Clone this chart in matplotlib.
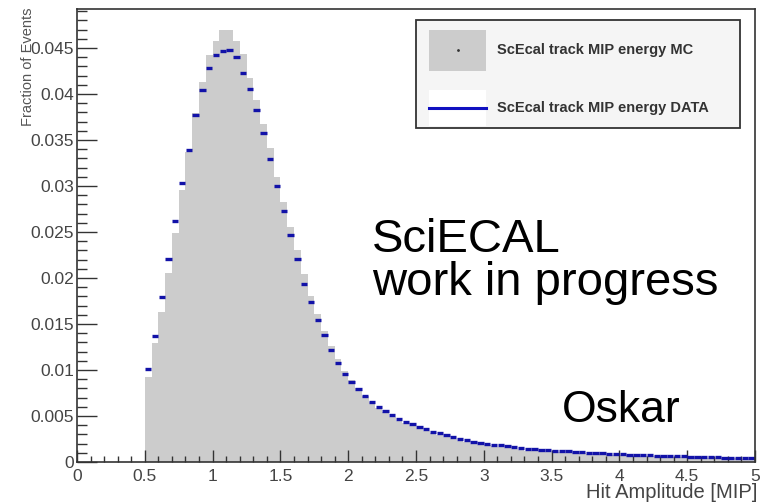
import matplotlib
matplotlib.use("Agg")
import matplotlib.pyplot as plt
from matplotlib.patches import Rectangle
from matplotlib.lines import Line2D
from matplotlib.ticker import MultipleLocator
import numpy as np

plt.rcParams['font.family'] = ['Liberation Sans', 'DejaVu Sans']

# histogram binning (Hit Amplitude in MIP)
bin_lo = 0.5
bin_w = 0.05

# MC histogram (fraction of events per bin)
mc = [0.0092, 0.0129, 0.0163, 0.0205, 0.0249, 0.0296, 0.0337, 0.0379, 0.0413, 0.0442,
      0.0458, 0.0470, 0.0470, 0.0458, 0.0444, 0.0417, 0.0394, 0.0368, 0.0341, 0.0310,
      0.0283, 0.0256, 0.0230, 0.0204, 0.0181, 0.0161, 0.0142, 0.0126, 0.0112, 0.0099,
      0.0089, 0.0080, 0.0072, 0.0065, 0.0059, 0.0054, 0.0049, 0.0045, 0.0042, 0.0039,
      0.0036, 0.0034, 0.0031, 0.0029, 0.0027, 0.0025, 0.0023, 0.0022, 0.0020, 0.0019,
      0.0018, 0.0017, 0.0016, 0.0015, 0.0014, 0.0013, 0.00125, 0.0012, 0.00115, 0.0011,
      0.00112, 0.00107, 0.00102, 0.00098, 0.00094, 0.0009, 0.00086, 0.00083, 0.0008, 0.00077,
      0.00074, 0.00071, 0.00068, 0.00066, 0.00063, 0.00061, 0.00059, 0.00057, 0.00055, 0.00053,
      0.00051, 0.00049, 0.00047, 0.00045, 0.00044, 0.00042, 0.00041, 0.00039, 0.00038, 0.00037]

# DATA histogram
data = [0.0101, 0.0137, 0.0179, 0.0221, 0.0262, 0.0303, 0.0339, 0.0377, 0.0404, 0.0428,
        0.0442, 0.0447, 0.0448, 0.0440, 0.0423, 0.0405, 0.0383, 0.0358, 0.0329, 0.0300,
        0.0273, 0.0247, 0.0221, 0.0194, 0.0174, 0.0154, 0.0138, 0.0122, 0.0108, 0.0096,
        0.0087, 0.0079, 0.0072, 0.0065, 0.0060, 0.0055, 0.0051, 0.0047, 0.0044, 0.0041,
        0.0038, 0.0036, 0.0033, 0.0031, 0.0029, 0.0027, 0.0025, 0.0024, 0.0022, 0.0021,
        0.0020, 0.0019, 0.0018, 0.0017, 0.0016, 0.0015, 0.00145, 0.0014, 0.00135, 0.0013,
        0.00125, 0.0012, 0.00115, 0.0011, 0.00106, 0.00102, 0.00098, 0.00094, 0.0009, 0.00087,
        0.00084, 0.00081, 0.00078, 0.00075, 0.00072, 0.0007, 0.00067, 0.00065, 0.00062, 0.0006,
        0.00058, 0.00056, 0.00054, 0.00052, 0.0005, 0.00048, 0.00046, 0.00045, 0.00043, 0.00042]

mc = np.array(mc)
data = np.array(data)
edges = bin_lo + bin_w * np.arange(len(mc) + 1)
centers = 0.5 * (edges[:-1] + edges[1:])

W, H = 761, 504
fig = plt.figure(figsize=(W / 100, H / 100), dpi=100)
ax = fig.add_axes([77 / W, 1 - 462 / H, 678 / W, 453 / H])

gray = '#cccccc'
blue = '#1212a8'
axcol = '#333333'
txtcol = '#444444'

ax.stairs(mc, edges, fill=True, color=gray, lw=0)
ax.hlines(data, centers - 0.47 * bin_w, centers + 0.47 * bin_w, colors=blue, lw=2.4)

ax.set_xlim(0, 5)
ax.set_ylim(0, 0.04925)
ax.xaxis.set_major_locator(MultipleLocator(0.5))
ax.xaxis.set_minor_locator(MultipleLocator(0.1))
ax.yaxis.set_major_locator(MultipleLocator(0.005))
ax.yaxis.set_minor_locator(MultipleLocator(0.001))
ax.xaxis.set_major_formatter(plt.FuncFormatter(lambda v, p: f"{v:g}"))
ax.yaxis.set_major_formatter(plt.FuncFormatter(lambda v, p: f"{v:g}"))

ax.tick_params(axis='both', direction='in', colors=axcol, labelcolor=txtcol,
               labelsize=12.5, width=1.0, top=False, right=False)
ax.tick_params(axis='y', which='major', length=14.4, pad=2)
ax.tick_params(axis='y', which='minor', length=7.2, width=1.0, direction='in', colors=axcol)
ax.tick_params(axis='x', which='major', length=8.6, pad=5)
ax.tick_params(axis='x', which='minor', length=4.3, width=1.0, direction='in', colors=axcol)
for s in ax.spines.values():
    s.set_color(axcol)
    s.set_linewidth(1.2)

fig.text(28 / W, 1 - 8 / H, 'Fraction of Events', rotation=90, ha='center', va='top',
         fontsize=10.5, color='#555555')
fig.text(757 / W, 1 - 493 / H, 'Hit Amplitude [MIP]', ha='right', va='center',
         fontsize=14.5, color=txtcol)

# legend box (ROOT style)
fig.add_artist(Rectangle((416 / W, 1 - 128 / H), 324 / W, 108 / H, transform=fig.transFigure,
                         facecolor='#f5f5f5', edgecolor='#333333', lw=1.3))
fig.add_artist(Rectangle((429 / W, 1 - 71 / H), 57 / W, 41 / H, transform=fig.transFigure,
                         facecolor=gray, edgecolor='none'))
fig.add_artist(Line2D([457.5 / W], [1 - 50 / H], transform=fig.transFigure, marker='.',
                      ms=2, color='#333333', ls='none'))
fig.add_artist(Rectangle((429 / W, 1 - 126 / H), 57 / W, 36 / H, transform=fig.transFigure,
                         facecolor='white', edgecolor='none'))
fig.add_artist(Line2D([429 / W, 486 / W], [1 - 108 / H, 1 - 108 / H], transform=fig.transFigure,
                      color='#1010c0', lw=2.2))
fig.text(497 / W, 1 - 50 / H, 'ScEcal track MIP energy MC', fontsize=10.5, fontweight='bold',
         color='#333333', va='center', ha='left')
fig.text(497 / W, 1 - 108 / H, 'ScEcal track MIP energy DATA', fontsize=10.5, fontweight='bold',
         color='#333333', va='center', ha='left')

fig.text(372 / W, 1 - 252 / H, 'SciECAL', fontsize=34, color='black', ha='left', va='baseline')
fig.text(372 / W, 1 - 295 / H, 'work in progress', fontsize=34, color='black', ha='left', va='baseline')
fig.text(562 / W, 1 - 422 / H, 'Oskar', fontsize=32, color='black', ha='left', va='baseline')

fig.savefig('out.png', dpi=100)
